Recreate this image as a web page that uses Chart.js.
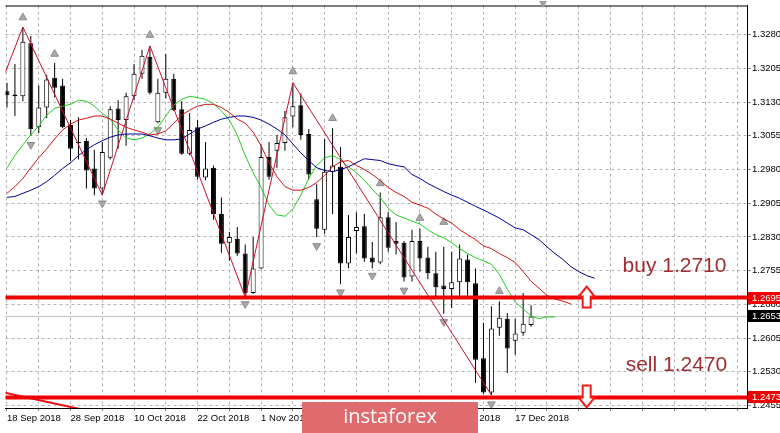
<!DOCTYPE html>
<html>
<head>
<meta charset="utf-8">
<script src="https://cdn.jsdelivr.net/npm/chart.js@4.4.1/dist/chart.umd.min.js"></script>
<style>
    html, body { margin: 0; padding: 0; background: #fff; }
    #wrap { width: 780px; height: 433px; position: relative; }
</style>
</head>
<body>
<div id="wrap"><canvas id="gbpChart"></canvas></div>
<script>
// daily candles, 18 Sep 2018 .. 19 Dec 2018
const dateLabels = ["18 Sep 2018", "28 Sep 2018", "10 Oct 2018", "22 Oct 2018", "1 Nov 2018",
    "13 Nov 2018", "23 Nov 2018", "5 Dec 2018", "17 Dec 2018"];

const opens = [
    1.3154, 1.3147, 1.3143, 1.3261, 1.3074, 1.3118, 1.3184, 1.3167, 1.3079, 1.3041,
    1.3044, 1.2982, 1.2938, 1.3006, 1.3116, 1.3090, 1.3143, 1.3193, 1.3231, 1.3085,
    1.3151, 1.3182, 1.3114, 1.3015, 1.3074, 1.2962, 1.2984, 1.2881, 1.2817, 1.2826,
    1.2793, 1.2705, 1.2760, 1.3008, 1.3022, 1.3039, 1.3098, 1.3123, 1.3059, 1.2914,
    1.2846, 1.2975, 1.2986, 1.2771, 1.2843, 1.2854, 1.2784, 1.2773, 1.2874, 1.2821,
    1.2817, 1.2742, 1.2821, 1.2784, 1.2749, 1.2722, 1.2714, 1.2729, 1.2780, 1.2727,
    1.2560, 1.2484, 1.2628, 1.2648, 1.2599, 1.2617, 1.2634
];
const highs = [
    1.3173, 1.3215, 1.3297, 1.3277, 1.3167, 1.3191, 1.3217, 1.3182, 1.3090, 1.3096,
    1.3050, 1.3024, 1.3041, 1.3121, 1.3134, 1.3151, 1.3215, 1.3246, 1.3255, 1.3182,
    1.3237, 1.3193, 1.3132, 1.3105, 1.3090, 1.3041, 1.2989, 1.2918, 1.2841, 1.2852,
    1.2813, 1.2830, 1.3035, 1.3041, 1.3057, 1.3110, 1.3173, 1.3149, 1.3070, 1.2947,
    1.3048, 1.3072, 1.3030, 1.2879, 1.2885, 1.2881, 1.2819, 1.2929, 1.2885, 1.2863,
    1.2821, 1.2846, 1.2848, 1.2808, 1.2797, 1.2808, 1.2797, 1.2813, 1.2791, 1.2760,
    1.2639, 1.2676, 1.2687, 1.2661, 1.2648, 1.2705, 1.2678
];
const lows = [
    1.3118, 1.3099, 1.3132, 1.3055, 1.3061, 1.3094, 1.3140, 1.3072, 1.2999, 1.3002,
    1.2938, 1.2923, 1.2923, 1.3002, 1.3026, 1.3033, 1.3134, 1.3182, 1.3147, 1.3083,
    1.3138, 1.3110, 1.3013, 1.3011, 1.2958, 1.2956, 1.2868, 1.2795, 1.2777, 1.2788,
    1.2696, 1.2703, 1.2758, 1.2958, 1.2984, 1.3022, 1.3074, 1.3046, 1.2958, 1.2830,
    1.2837, 1.2881, 1.2725, 1.2760, 1.2793, 1.2775, 1.2760, 1.2769, 1.2797, 1.2791,
    1.2731, 1.2731, 1.2753, 1.2736, 1.2698, 1.2659, 1.2672, 1.2698, 1.2698, 1.2505,
    1.2480, 1.2478, 1.2610, 1.2527, 1.2568, 1.2610, 1.2630
];
const closes = [
    1.3145, 1.3143, 1.3264, 1.3070, 1.3118, 1.3180, 1.3162, 1.3074, 1.3026, 1.3039,
    1.2978, 1.2938, 1.3019, 1.3114, 1.3090, 1.3143, 1.3193, 1.3233, 1.3151, 1.3151,
    1.3182, 1.3112, 1.3015, 1.3068, 1.2964, 1.2982, 1.2881, 1.2815, 1.2830, 1.2793,
    1.2705, 1.2760, 1.3008, 1.2964, 1.3039, 1.3096, 1.3121, 1.3057, 1.2969, 1.2848,
    1.2975, 1.2989, 1.2771, 1.2830, 1.2852, 1.2782, 1.2773, 1.2874, 1.2806, 1.2815,
    1.2740, 1.2821, 1.2782, 1.2749, 1.2718, 1.2714, 1.2729, 1.2782, 1.2729, 1.2557,
    1.2484, 1.2626, 1.2650, 1.2582, 1.2615, 1.2637, 1.2653
];

// alligator lines (already shifted forward, one value per bar slot)
const lipsLine = [
    1.2984, 1.3011, 1.3035, 1.3057, 1.3077, 1.3101, 1.3116, 1.3121, 1.3125, 1.3134,
    1.3132, 1.3121, 1.3105, 1.3092, 1.3068, 1.3050, 1.3046, 1.3050, 1.3059, 1.3074,
    1.3099, 1.3123, 1.3136, 1.3143, 1.3140, 1.3136, 1.3127, 1.3110, 1.3090, 1.3057,
    1.3011, 1.2973, 1.2940, 1.2901, 1.2879, 1.2876, 1.2892, 1.2923, 1.2960, 1.2989,
    1.3006, 1.3011, 1.3002, 1.2986, 1.2973, 1.2956, 1.2936, 1.2918, 1.2894, 1.2879,
    1.2872, 1.2865, 1.2859, 1.2846, 1.2835, 1.2828, 1.2817, 1.2804, 1.2793, 1.2784,
    1.2777, 1.2769, 1.2747, 1.2714, 1.2685, 1.2670, 1.2654, 1.2648, 1.2652, 1.2652
];
const teethLine = [
    1.2927, 1.2942, 1.2960, 1.2984, 1.3006, 1.3026, 1.3048, 1.3068, 1.3081, 1.3090,
    1.3094, 1.3099, 1.3099, 1.3092, 1.3083, 1.3074, 1.3068, 1.3063, 1.3057, 1.3059,
    1.3066, 1.3083, 1.3101, 1.3112, 1.3121, 1.3125, 1.3125, 1.3118, 1.3107, 1.3092,
    1.3083, 1.3063, 1.3033, 1.2995, 1.2964, 1.2942, 1.2934, 1.2934, 1.2940, 1.2951,
    1.2967, 1.2986, 1.2997, 1.3000, 1.2989, 1.2980, 1.2969, 1.2956, 1.2940, 1.2929,
    1.2920, 1.2907, 1.2901, 1.2894, 1.2881, 1.2870, 1.2861, 1.2846, 1.2835, 1.2824,
    1.2810, 1.2804, 1.2793, 1.2784, 1.2773, 1.2753, 1.2731, 1.2716, 1.2700, 1.2692,
    1.2687, 1.2681
];
const jawLine = [
    1.2918, 1.2920, 1.2927, 1.2934, 1.2942, 1.2953, 1.2967, 1.2982, 1.2995, 1.3011,
    1.3024, 1.3035, 1.3044, 1.3052, 1.3057, 1.3059, 1.3059, 1.3059, 1.3055, 1.3050,
    1.3046, 1.3046, 1.3048, 1.3059, 1.3070, 1.3077, 1.3085, 1.3092, 1.3096, 1.3099,
    1.3099, 1.3096, 1.3090, 1.3081, 1.3070, 1.3057, 1.3037, 1.3017, 1.3000, 1.2984,
    1.2978, 1.2975, 1.2980, 1.2986, 1.2995, 1.3004, 1.3002, 1.3000, 1.2993, 1.2989,
    1.2986, 1.2969, 1.2960, 1.2949, 1.2940, 1.2931, 1.2923, 1.2916, 1.2907, 1.2898,
    1.2890, 1.2881, 1.2872, 1.2861, 1.2850, 1.2846, 1.2835, 1.2824, 1.2808, 1.2793,
    1.2780, 1.2764, 1.2753, 1.2744, 1.2738
];

const zigzagIdx = [-1, 2, 12, 18, 30, 36, 61];
const zigzagVals = [1.3160, 1.3297, 1.2923, 1.3255, 1.2696, 1.3173, 1.2478];

const fractalUpIdx = [2, 6, 18, 36, 41, 47, 52, 55, 62];
const fractalUpVals = [1.3318, 1.3237, 1.3279, 1.3198, 1.3094, 1.2949, 1.2872, 1.2863, 1.2709];
const fractalDownIdx = [3, 12, 19, 30, 39, 42, 46, 50, 55, 61];
const fractalDownVals = [1.3035, 1.2905, 1.3068, 1.2681, 1.2810, 1.2707, 1.2744, 1.2711, 1.2641, 1.2458];

const trendIdx = [-1, 10];
const trendVals = [1.2486, 1.2444];

const buyLevel = 1.2695;
const sellLevel = 1.2473;
const lastPrice = 1.2653;

const yTickValues = [1.2455, 1.2530, 1.2605, 1.2680, 1.2755, 1.2830, 1.2905, 1.2980, 1.3055, 1.3130, 1.3205, 1.3280];

const toPoints = (idx, vals) => vals.map((v, i) => ({ x: idx[i], y: v }));
const seq = vals => vals.map((v, i) => ({ x: i, y: v }));
const flat = v => [{ x: -2, y: v }, { x: 96, y: v }];

const wickData = highs.map((h, i) => ({ x: i, y: [lows[i], h] }));
const bodyData = opens.map((o, i) => ({ x: i, y: [o, closes[i]] }));
const bodyColors = opens.map((o, i) => closes[i] >= o ? "#ffffff" : "#000000");

const FONT = '"Liberation Sans", Arial, sans-serif';
Chart.defaults.font.family = FONT;
Chart.defaults.color = "#000";

const overlay = {
    id: "overlay",
    afterDraw(chart) {
        const { ctx, chartArea, scales: { x, y } } = chart;
        ctx.save();

        // frame top
        ctx.fillStyle = "#000";
        ctx.fillRect(chartArea.left, chartArea.top, chartArea.right - chartArea.left, 1);

        // shift marker
        ctx.fillStyle = "#a0a0a0";
        ctx.beginPath();
        ctx.moveTo(539, 1); ctx.lineTo(547, 1); ctx.lineTo(543, 8); ctx.closePath();
        ctx.fill();

        // arrows
        const ax = x.getPixelForValue(73);
        ctx.lineWidth = 2;
        ctx.strokeStyle = "#ee1c1c";
        ctx.fillStyle = "#ffffff";
        let yl = y.getPixelForValue(buyLevel);
        ctx.beginPath();
        ctx.moveTo(ax, yl - 11);
        ctx.lineTo(ax + 8, yl - 1);
        ctx.lineTo(ax + 4, yl - 1);
        ctx.lineTo(ax + 4, yl + 10);
        ctx.lineTo(ax - 4, yl + 10);
        ctx.lineTo(ax - 4, yl - 1);
        ctx.lineTo(ax - 8, yl - 1);
        ctx.closePath();
        ctx.fill(); ctx.stroke();

        yl = y.getPixelForValue(sellLevel);
        ctx.beginPath();
        ctx.moveTo(ax, yl + 10);
        ctx.lineTo(ax + 8, yl);
        ctx.lineTo(ax + 4, yl);
        ctx.lineTo(ax + 4, yl - 12);
        ctx.lineTo(ax - 4, yl - 12);
        ctx.lineTo(ax - 4, yl);
        ctx.lineTo(ax - 8, yl);
        ctx.closePath();
        ctx.fill(); ctx.stroke();

        // notes
        ctx.fillStyle = "#a02d30";
        ctx.font = "21px " + FONT;
        ctx.textAlign = "center";
        ctx.textBaseline = "middle";
        ctx.fillText("buy 1.2710", x.getPixelForValue(84.06), y.getPixelForValue(1.2764));
        ctx.fillText("sell 1.2470", x.getPixelForValue(84.3), y.getPixelForValue(1.2544));

        // price boxes on the axis
        const box = (v, bg) => {
            const py = Math.round(y.getPixelForValue(v));
            ctx.fillStyle = bg;
            ctx.fillRect(chartArea.right + 1, py - 6, 40, 12);
            ctx.fillStyle = "#fff";
            ctx.font = "9.5px " + FONT;
            ctx.textAlign = "left";
            ctx.fillText(v.toFixed(4), chartArea.right + 5, py + 0.5);
        };
        box(buyLevel, "#f00000");
        box(sellLevel, "#f00000");
        box(lastPrice, "#000000");

        // logo
        ctx.fillStyle = "#e06b6e";
        ctx.fillRect(302, 402, 176, 31);
        ctx.fillStyle = "#ffffff";
        ctx.font = '20px "Open Sans", ' + FONT;
        ctx.textAlign = "center";
        ctx.fillText("instaforex", 390, 417);
        ctx.restore();
    }
};

const ctx = document.getElementById("gbpChart").getContext("2d");

new Chart(ctx, {
    type: "bar",
    data: {
        datasets: [
            { type: "line", data: flat(buyLevel), borderColor: "#f00000", borderWidth: 4, pointRadius: 0, order: 0 },
            { type: "line", data: flat(sellLevel), borderColor: "#f00000", borderWidth: 4, pointRadius: 0, order: 0 },
            { type: "line", data: toPoints(trendIdx, trendVals), borderColor: "#e81010", borderWidth: 2, pointRadius: 0, order: 0 },
            { type: "line", data: toPoints(zigzagIdx, zigzagVals), borderColor: "#c8102e", borderWidth: 1, pointRadius: 0, order: 1 },
            { type: "line", data: seq(jawLine), borderColor: "#000096", borderWidth: 1, pointRadius: 0, order: 2 },
            { type: "line", data: seq(teethLine), borderColor: "#d01414", borderWidth: 1, pointRadius: 0, order: 2 },
            { type: "line", data: seq(lipsLine), borderColor: "#22cc22", borderWidth: 1, pointRadius: 0, order: 2 },
            {
                type: "line", data: toPoints(fractalUpIdx, fractalUpVals), showLine: false,
                pointStyle: "triangle", pointRadius: 4.5, pointBackgroundColor: "#a8a8a8",
                pointBorderColor: "#8c8c8c", pointBorderWidth: 1, order: 3
            },
            {
                type: "line", data: toPoints(fractalDownIdx, fractalDownVals), showLine: false,
                pointStyle: "triangle", rotation: 180, pointRadius: 4.5, pointBackgroundColor: "#a8a8a8",
                pointBorderColor: "#8c8c8c", pointBorderWidth: 1, order: 3
            },
            {
                data: bodyData, backgroundColor: bodyColors, borderColor: "#000", borderWidth: 1,
                borderSkipped: false, barThickness: 5, grouped: false, inflateAmount: 0, order: 4
            },
            {
                data: wickData, backgroundColor: "#000", borderWidth: 0,
                barThickness: 1, grouped: false, inflateAmount: 0, order: 5
            },
            { type: "line", data: flat(lastPrice), borderColor: "#c0c0c0", borderWidth: 1, pointRadius: 0, order: 6 }
        ]
    },
    options: {
        responsive: true,
        maintainAspectRatio: false,
        animation: false,
        events: [],
        layout: { padding: { top: 1, left: 0, right: 0, bottom: 0 } },
        plugins: { legend: { display: false }, tooltip: { enabled: false } },
        scales: {
            x: {
                type: "linear",
                min: -0.1875,
                max: 93.1875,
                offset: false,
                bounds: "data",
                grid: { offset: false, color: "#b4b4b4", tickColor: "#808080", tickBorderDash: [], tickLength: 3 },
                border: { display: true, color: "#000", width: 1, dash: [3, 3] },
                afterBuildTicks: scale => {
                    const t = [];
                    for (let k = 0; k <= 92; k += 4) t.push({ value: k });
                    scale.ticks = t;
                },
                afterFit: scale => {
                    scale.height = 25;
                    scale.paddingLeft = 0; scale.paddingRight = 0;
                },
                ticks: {
                    autoSkip: false,
                    maxRotation: 0,
                    align: "start",
                    padding: 2,
                    font: { size: 9.5 },
                    callback: value => (value % 8 === 0 ? (dateLabels[value / 8] || "") : "")
                }
            },
            y: {
                position: "right",
                min: 1.24494,
                max: 1.33449,
                bounds: "data",
                grid: { color: "#b4b4b4", tickColor: "#808080", tickBorderDash: [], tickLength: 4 },
                border: { display: true, color: "#000", width: 1, dash: [3, 3] },
                afterBuildTicks: scale => {
                    scale.ticks = yTickValues.map(v => ({ value: v }));
                },
                afterFit: scale => {
                    scale.width = 33;
                    scale.paddingTop = 0; scale.paddingBottom = 0;
                },
                ticks: {
                    autoSkip: false,
                    padding: 1,
                    font: { size: 9.5 },
                    callback: value => value.toFixed(4)
                }
            }
        }
    },
    plugins: [overlay]
});
</script>
</body>
</html>
